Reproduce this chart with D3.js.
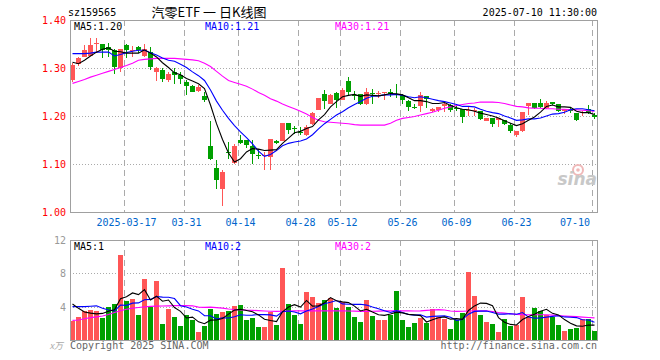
<!DOCTYPE html>
<html><head><meta charset="utf-8">
<script src="https://cdn.jsdelivr.net/npm/d3@7"></script>
<style>
html,body{margin:0;padding:0;background:#fff;}
svg{display:block;}
text{font-family:"DejaVu Sans Mono",monospace;font-size:10px;}
</style></head>
<body>
<svg id="c" width="660" height="360"></svg>
<script>
const dates = ["03-04","03-05","03-06","03-07","03-10","03-11","03-12","03-13","03-14","03-17",
"03-18","03-19","03-20","03-21","03-24","03-25","03-26","03-27","03-28","03-31",
"04-01","04-02","04-03","04-07","04-08","04-09","04-10","04-11","04-14","04-15",
"04-16","04-17","04-18","04-21","04-22","04-23","04-24","04-25","04-28","04-29",
"04-30","05-06","05-07","05-08","05-09","05-12","05-13","05-14","05-15","05-16",
"05-19","05-20","05-21","05-22","05-23","05-26","05-27","05-28","05-29","05-30",
"06-03","06-04","06-05","06-06","06-09","06-10","06-11","06-12","06-13","06-16",
"06-17","06-18","06-19","06-20","06-23","06-24","06-25","06-26","06-27","06-30",
"07-01","07-02","07-03","07-04","07-07","07-08","07-09","07-10"];

const open = [1.274,1.309,1.323,1.326,1.349,1.349,1.343,1.337,1.299,1.347,
1.335,1.344,1.326,1.333,1.292,1.295,1.274,1.292,1.285,1.271,
1.262,1.252,1.242,1.137,1.092,1.047,1.124,1.102,1.149,1.149,
1.138,1.119,1.116,1.115,1.148,1.148,1.185,1.174,1.167,1.160,
1.183,1.212,1.245,1.226,1.247,1.234,1.272,1.243,1.245,1.226,
1.247,1.246,1.247,1.251,1.246,1.243,1.232,1.219,1.220,1.241,
1.210,1.213,1.220,1.222,1.216,1.215,1.210,1.210,1.210,1.190,
1.196,1.192,1.191,1.181,1.160,1.168,1.221,1.228,1.228,1.216,
1.229,1.226,1.210,1.215,1.206,1.206,1.215,1.203];
const high = [1.310,1.322,1.347,1.362,1.362,1.349,1.352,1.340,1.340,1.351,
1.345,1.345,1.351,1.344,1.302,1.299,1.292,1.301,1.292,1.274,
1.264,1.264,1.250,1.189,1.108,1.088,1.146,1.142,1.160,1.149,
1.151,1.131,1.125,1.153,1.150,1.186,1.186,1.179,1.177,1.181,
1.208,1.237,1.255,1.246,1.249,1.258,1.281,1.253,1.245,1.258,
1.257,1.253,1.251,1.257,1.267,1.245,1.233,1.226,1.249,1.241,
1.217,1.219,1.229,1.226,1.224,1.215,1.219,1.217,1.211,1.196,
1.196,1.196,1.192,1.185,1.168,1.208,1.228,1.228,1.236,1.231,
1.229,1.226,1.215,1.219,1.206,1.211,1.222,1.206];
const low = [1.270,1.304,1.322,1.326,1.331,1.320,1.323,1.288,1.292,1.320,
1.323,1.331,1.323,1.295,1.273,1.271,1.270,1.267,1.267,1.243,
1.250,1.249,1.229,1.108,1.047,1.012,1.110,1.099,1.142,1.134,
1.099,1.110,1.087,1.087,1.142,1.147,1.162,1.162,1.160,1.158,
1.181,1.212,1.215,1.224,1.216,1.233,1.241,1.233,1.223,1.222,
1.226,1.237,1.233,1.239,1.237,1.226,1.210,1.214,1.208,1.216,
1.208,1.208,1.208,1.208,1.210,1.185,1.201,1.199,1.191,1.189,
1.178,1.178,1.182,1.165,1.157,1.167,1.203,1.214,1.216,1.215,
1.222,1.208,1.205,1.206,1.190,1.200,1.205,1.193];
const close = [1.306,1.321,1.338,1.347,1.352,1.338,1.337,1.302,1.340,1.337,
1.338,1.337,1.340,1.302,1.299,1.278,1.288,1.285,1.278,1.262,
1.251,1.260,1.233,1.110,1.067,1.083,1.122,1.137,1.144,1.139,
1.120,1.117,1.118,1.152,1.144,1.185,1.171,1.173,1.165,1.177,
1.206,1.237,1.231,1.243,1.234,1.255,1.250,1.242,1.226,1.249,
1.246,1.247,1.250,1.245,1.244,1.234,1.219,1.218,1.243,1.236,
1.215,1.218,1.226,1.213,1.215,1.198,1.213,1.213,1.193,1.196,
1.184,1.195,1.183,1.168,1.168,1.208,1.228,1.216,1.218,1.228,
1.225,1.210,1.215,1.211,1.191,1.209,1.207,1.197];
const ma5 = [1.312,1.309,1.316,1.325,1.333,1.339,1.342,1.335,1.334,1.331,
1.331,1.331,1.338,1.331,1.323,1.311,1.301,1.290,1.286,1.278,
1.273,1.267,1.257,1.223,1.184,1.151,1.123,1.104,1.111,1.125,
1.132,1.131,1.128,1.129,1.130,1.143,1.154,1.165,1.168,1.174,
1.178,1.192,1.203,1.219,1.230,1.240,1.243,1.245,1.241,1.244,
1.243,1.242,1.244,1.247,1.246,1.244,1.238,1.232,1.232,1.230,
1.226,1.226,1.228,1.222,1.217,1.214,1.213,1.210,1.206,1.203,
1.200,1.196,1.190,1.185,1.180,1.184,1.191,1.198,1.208,1.220,
1.223,1.219,1.219,1.218,1.210,1.207,1.207,1.203];
const ma10 = [1.330,1.330,1.330,1.331,1.333,1.333,1.333,1.325,1.328,1.332,
1.335,1.337,1.337,1.332,1.327,1.321,1.316,1.314,1.308,1.301,
1.292,1.284,1.274,1.254,1.231,1.212,1.195,1.180,1.167,1.155,
1.142,1.127,1.116,1.120,1.128,1.138,1.143,1.146,1.148,1.152,
1.161,1.173,1.184,1.193,1.202,1.209,1.217,1.224,1.230,1.237,
1.241,1.242,1.244,1.244,1.245,1.243,1.240,1.238,1.240,1.238,
1.235,1.232,1.230,1.227,1.224,1.220,1.220,1.219,1.214,1.210,
1.207,1.205,1.200,1.196,1.191,1.192,1.194,1.194,1.196,1.200,
1.204,1.205,1.208,1.213,1.215,1.215,1.213,1.211];
const ma30 = [1.268,1.272,1.276,1.281,1.285,1.289,1.293,1.297,1.301,1.305,
1.310,1.316,1.318,1.319,1.320,1.320,1.320,1.320,1.319,1.318,
1.317,1.315,1.310,1.303,1.293,1.283,1.274,1.270,1.266,1.262,
1.256,1.249,1.243,1.236,1.231,1.225,1.220,1.215,1.210,1.204,
1.197,1.191,1.188,1.187,1.186,1.185,1.184,1.182,1.181,1.181,
1.181,1.181,1.181,1.185,1.191,1.195,1.197,1.199,1.202,1.205,
1.208,1.212,1.216,1.219,1.222,1.224,1.226,1.227,1.229,1.229,
1.229,1.228,1.226,1.223,1.220,1.219,1.217,1.216,1.216,1.215,
1.215,1.214,1.214,1.213,1.213,1.212,1.211,1.210];
const volume = [2.34,2.75,3.43,3.60,3.52,2.67,4.00,4.36,10.18,4.73,
4.97,3.03,7.27,4.00,7.03,1.94,3.76,2.79,1.70,3.03,
2.42,0.97,1.70,3.76,3.15,3.39,3.52,4.12,4.24,2.42,
2.67,1.58,1.58,3.39,1.82,8.60,4.36,3.03,1.94,5.82,
5.21,4.48,4.85,5.09,3.88,4.61,4.00,2.79,2.18,4.85,
2.91,2.42,2.42,3.03,5.94,2.42,1.58,2.06,2.67,2.06,
3.76,2.79,2.55,1.33,2.42,3.27,8.12,5.33,3.03,2.18,
1.94,0.97,2.55,1.70,1.82,5.21,2.79,3.88,3.52,3.03,
2.79,1.82,1.09,1.33,1.45,2.55,2.55,1.09];
const vma5 = [4.32,3.80,3.35,3.23,3.13,3.19,3.44,3.63,4.95,5.19,
5.65,5.45,6.04,4.80,5.26,4.65,4.80,3.90,3.44,2.64,
2.74,2.18,1.96,2.38,2.40,2.59,3.10,3.59,3.68,3.54,
3.39,3.01,2.50,2.33,2.21,3.39,3.95,4.24,3.95,4.75,
4.07,4.10,4.46,5.09,4.70,4.58,4.49,4.07,3.49,3.69,
3.35,3.03,2.96,3.13,3.34,3.25,3.08,3.01,2.93,2.16,
2.43,2.67,2.77,2.50,2.57,2.47,3.54,4.09,4.43,4.39,
4.12,2.69,2.13,1.87,1.80,2.45,2.81,3.08,3.44,3.69,
3.20,3.01,2.45,2.01,1.70,1.65,1.79,1.79];
const vma10 = [4.00,4.00,4.00,4.05,4.10,3.80,3.60,3.50,4.20,4.16,
4.42,4.45,4.83,4.87,5.22,5.15,5.13,4.97,4.12,3.95,
3.70,3.49,2.93,2.91,2.52,2.67,2.64,2.78,3.03,2.97,
2.99,3.06,3.04,3.01,2.87,3.39,3.48,3.37,3.14,3.48,
3.73,4.02,4.35,4.52,4.73,4.33,4.29,4.27,4.29,4.19,
3.96,3.76,3.52,3.31,3.52,3.30,3.05,2.98,3.03,2.75,
2.84,2.87,2.89,2.72,2.36,2.45,3.10,3.43,3.47,3.48,
3.30,3.11,3.11,3.15,3.09,3.29,2.75,2.61,2.66,2.74,
2.83,2.91,2.77,2.73,2.69,2.43,2.40,2.12];
const vma30 = [2.35,2.40,2.55,2.68,2.78,2.88,3.05,3.30,3.52,3.68,
3.82,3.90,3.98,4.04,4.06,4.08,4.10,4.12,4.12,4.12,
4.10,3.95,3.92,3.95,3.88,3.82,3.72,3.66,3.62,3.58,
3.56,3.52,3.48,3.45,3.43,3.45,3.47,3.50,3.50,3.50,
3.50,3.50,3.50,3.50,3.50,3.50,3.48,3.46,3.44,3.43,
3.45,3.47,3.50,3.50,3.50,3.50,3.50,3.48,3.50,3.55,
3.60,3.64,3.60,3.48,3.43,3.45,3.48,3.50,3.50,3.50,
3.42,3.30,3.22,3.15,3.08,3.04,3.03,3.03,3.03,3.03,
2.98,2.93,2.88,2.84,2.80,2.75,2.70,2.65];

const priceTicks = [1.00,1.10,1.20,1.30,1.40];
const volTicks = [4,8,12];
const xTickDates = ["03-17","03-31","04-14","04-28","05-12","05-26","06-09","06-23","07-10"];
const xTickLabels = ["2025-03-17","03-31","04-14","04-28","05-12","05-26","06-09","06-23","07-10"];
const priceLegend = ["MA5:1.20","MA10:1.21","MA30:1.21"];
const volLegend = ["MA5:1","MA10:2","MA30:2"];

const RED = "#ff5656", GREEN = "#00a000", GRID = "#aaaaaa", FRAME = "#a0a0a0";
const L = 70, R = 597, PT = 20, PB = 212, VT = 240, VB = 340;

const svg = d3.select("#c");
const x = d3.scaleBand().domain(dates).range([L, L + 6 * dates.length]).paddingInner(0);
const y = d3.scaleLinear().domain([1.0, 1.4]).range([PB, PT]);
const yv = d3.scaleLinear().domain([0, 12]).range([VB, VT]);
const cx = i => x(dates[i]) + 2.5;

// title texts
svg.append("text").attr("x", 68).attr("y", 16).attr("fill", "#000").text("sz159565");
svg.append("text").attr("x", 209).attr("y", 17).attr("text-anchor", "middle")
  .style("font-family", "'Noto Sans CJK SC'").style("font-size", "13px").attr("fill", "#000")
  .text("汽零ETF 一 日K线图");
svg.append("text").attr("x", 597).attr("y", 16).attr("text-anchor", "end").attr("fill", "#000")
  .text("2025-07-10 11:30:00");

// gridlines price
const g = svg.append("g").attr("shape-rendering", "crispEdges");
g.selectAll(".hg").data(priceTicks.slice(1, 4)).join("line")
  .attr("x1", L).attr("x2", R).attr("y1", d => Math.round(y(d)) + 0.5).attr("y2", d => Math.round(y(d)) + 0.5)
  .attr("stroke", GRID).attr("stroke-dasharray", "1,2");
g.selectAll(".hv").data(volTicks.slice(0, 2)).join("line")
  .attr("x1", L).attr("x2", R).attr("y1", d => Math.round(yv(d)) + 0.5).attr("y2", d => Math.round(yv(d)) + 0.5)
  .attr("stroke", GRID).attr("stroke-dasharray", "1,2");
xTickDates.forEach(d => {
  const xx = x(d) + 0.5;
  g.append("line").attr("x1", xx).attr("x2", xx).attr("y1", PT).attr("y2", PB)
    .attr("stroke", GRID).attr("stroke-dasharray", "6,4");
  g.append("line").attr("x1", xx).attr("x2", xx).attr("y1", VT).attr("y2", VB)
    .attr("stroke", GRID).attr("stroke-dasharray", "6,4");
});

// watermark
const wm = svg.append("g").attr("fill", "#c8c8c8");
wm.append("circle").attr("cx", 578).attr("cy", 170).attr("r", 5).attr("fill", "none").attr("stroke", "#f0b8b8").attr("stroke-width", 2);
wm.append("circle").attr("cx", 578).attr("cy", 170).attr("r", 1.8).attr("fill", "#f0b8b8");
wm.append("text").attr("x", 597).attr("y", 185).attr("text-anchor", "end")
  .style("font-family", "'DejaVu Sans'").style("font-size", "17px").style("font-weight", "bold").style("font-style", "italic")
  .text("sina");

// candles
const data = dates.map((d, i) => ({ d, i, o: open[i], h: high[i], l: low[i], c: close[i], v: volume[i] }));
const cg = svg.append("g").attr("shape-rendering", "crispEdges");
cg.selectAll(".wick").data(data).join("line")
  .attr("x1", d => x(d.d) + 2.5).attr("x2", d => x(d.d) + 2.5)
  .attr("y1", d => y(d.h)).attr("y2", d => y(d.l))
  .attr("stroke", d => d.c >= d.o ? RED : GREEN);
cg.selectAll(".body").data(data).join("rect")
  .attr("x", d => x(d.d)).attr("width", 5)
  .attr("y", d => y(Math.max(d.o, d.c)))
  .attr("height", d => Math.max(1, Math.abs(y(d.o) - y(d.c))))
  .attr("fill", d => d.c >= d.o ? RED : GREEN);

// volume bars
cg.selectAll(".vbar").data(data).join("rect")
  .attr("x", d => x(d.d)).attr("width", 5)
  .attr("y", d => yv(d.v)).attr("height", d => yv(0) - yv(d.v))
  .attr("fill", d => d.c >= d.o ? RED : GREEN);

// MA lines
function maLine(arr, scale, color) {
  svg.append("path").datum(arr)
    .attr("d", d3.line().x((v, i) => cx(i)).y(v => scale(v)))
    .attr("fill", "none").attr("stroke", color).attr("stroke-width", 1.1);
}
maLine(ma30, y, "#ff00ff"); maLine(ma10, y, "#0000ff"); maLine(ma5, y, "#000000");
maLine(vma30, yv, "#ff00ff"); maLine(vma10, yv, "#0000ff"); maLine(vma5, yv, "#000000");

// frames
const fg = svg.append("g").attr("shape-rendering", "crispEdges");
fg.append("rect").attr("x", L + 0.5).attr("y", PT + 0.5).attr("width", R - L).attr("height", PB - PT)
  .attr("fill", "none").attr("stroke", FRAME).attr("stroke-width", 1.5);
fg.append("rect").attr("x", L + 0.5).attr("y", VT + 0.5).attr("width", R - L).attr("height", VB - VT)
  .attr("fill", "none").attr("stroke", FRAME).attr("stroke-width", 1.5);

// axes labels
svg.selectAll(".pt").data(priceTicks).join("text")
  .attr("x", 66).attr("y", d => y(d) + 4).attr("text-anchor", "end").attr("fill", "#ff0000")
  .text(d => d.toFixed(2));
svg.selectAll(".vt").data(volTicks).join("text")
  .attr("x", 66).attr("y", d => yv(d) + 4).attr("text-anchor", "end").attr("fill", "#999")
  .text(d => d);
svg.append("text").attr("x", 63).attr("y", 349).attr("text-anchor", "end").attr("fill", "#aaa")
  .style("font-style", "italic").style("font-family", "'Noto Sans CJK SC'").style("font-size", "9px").text("x万");
xTickDates.forEach((d, k) => {
  let xx = x(d) + 2.5;
  const lbl = xTickLabels[k];
  const w = lbl.length * 6.02;
  let anchor = "middle";
  if (xx + w / 2 > R - 5) { xx = R - 7; anchor = "end"; }
  svg.append("text").attr("x", xx).attr("y", 226).attr("text-anchor", anchor).attr("fill", "#0066cc").text(lbl);
});

// legends
const pcols = ["#000", "#0000ff", "#ff00ff"], lx = [74, 205, 335];
priceLegend.forEach((t, k) => svg.append("text").attr("x", lx[k]).attr("y", 30).attr("fill", pcols[k]).text(t));
volLegend.forEach((t, k) => svg.append("text").attr("x", lx[k]).attr("y", 250).attr("fill", pcols[k]).text(t));

// footer
svg.append("text").attr("x", 70).attr("y", 349).attr("fill", "#666").text("Copyright 2025 SINA.COM");
svg.append("text").attr("x", 597).attr("y", 349).attr("text-anchor", "end").attr("fill", "#666").text("http://finance.sina.com.cn");
</script>
</body></html>
